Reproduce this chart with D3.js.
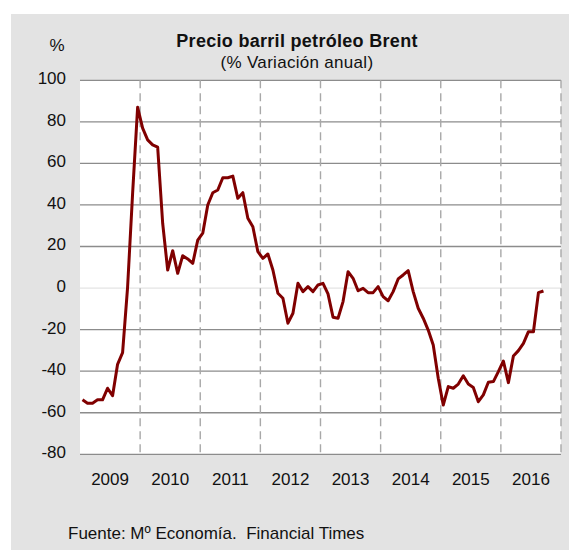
<!DOCTYPE html>
<html>
<head>
<meta charset="utf-8">
<script src="https://cdn.jsdelivr.net/npm/d3@7"></script>
<style>
  body { margin: 0; background: #fff; }
  text { font-family: "Liberation Sans", Arial, sans-serif; fill: #111; }
</style>
</head>
<body>
<div id="chart"></div>
<script>
// monthly % change, Jan 2009 .. Sep 2016
var years = ["2009", "2010", "2011", "2012", "2013", "2014", "2015", "2016"];
var yTicks = [-80, -60, -40, -20, 0, 20, 40, 60, 80, 100];
var brent = [
  -53.8, -55.4, -55.4, -53.8, -53.8, -48.2, -51.8, -36.7, -31.1, 0.5, 45.6, 87,
  77, 71.3, 68.9, 67.8, 31.2, 8.7, 18, 7.1, 15.6, 14, 11.9, 23.1,
  26.4, 40, 45.9, 47.2, 53.1, 53.1, 53.9, 43.2, 45.9, 33.6, 29.5, 17.5,
  14.3, 16.4, 8.7, -2.5, -4.9, -16.9, -12.1, 2.3, -1.7, 0.7, -1.7, 1.5,
  2.3, -2.8, -14, -14.5, -6.5, 7.9, 4.7, -1.3, -0.1, -2.2, -2.2, 0.7,
  -4.1, -6.1, -1.7, 4.4, 6.3, 8.4, -1.7, -9.7, -14.5, -20.2, -27.4, -43.4,
  -56.3, -47.4, -48.2, -46.2, -42.2, -46.2, -47.8, -54.7, -51.4, -45.3, -45, -40.2,
  -35.1, -45.5, -32.7, -30.1, -26.6, -21, -21, -2.2, -1.4
];

var margin = {top: 80.3, right: 8, bottom: 95.7, left: 80};
var width = 569 - margin.left - margin.right,
    height = 550 - margin.top - margin.bottom;

var svg = d3.select("#chart").append("svg")
    .attr("width", 569)
    .attr("height", 550);

// grey panel
svg.append("rect")
    .attr("x", 11).attr("y", 14)
    .attr("width", 558).attr("height", 536)
    .style("fill", "#e3e3e3");

var g = svg.append("g")
    .attr("transform", "translate(" + margin.left + "," + margin.top + ")");

g.append("rect")
    .attr("width", width).attr("height", height)
    .style("fill", "#fff");

var xYear = d3.scaleBand()
    .domain(years)
    .range([0, width]);

var x = d3.scaleLinear()
    .domain([0, years.length * 12])
    .range([0, width]);

var y = d3.scaleLinear()
    .domain([-80, 100])
    .range([height, 0]);

// horizontal grid
g.selectAll(".hgrid")
    .data(yTicks)
    .enter().append("line")
    .attr("class", "hgrid")
    .attr("x1", 0).attr("x2", width)
    .attr("y1", function(d) { return y(d); })
    .attr("y2", function(d) { return y(d); })
    .style("stroke", function(d) { return d == 0 ? "#e4e4e4" : "#8c8c8c"; })
    .style("stroke-width", 1.3);

// dashed year separators
g.selectAll(".vgrid")
    .data(years.slice(1).concat(["end"]))
    .enter().append("line")
    .attr("class", "vgrid")
    .attr("x1", function(d) { return d == "end" ? width : xYear(d); })
    .attr("x2", function(d) { return d == "end" ? width : xYear(d); })
    .attr("y1", 0).attr("y2", height)
    .style("stroke", "#a8a8a8")
    .style("stroke-width", 1.4)
    .style("stroke-dasharray", "8,5");

// axes (labels only)
var yAxis = g.append("g")
    .call(d3.axisLeft(y).tickValues(yTicks).tickSize(0).tickPadding(14)
        .tickFormat(function(d) { return String(d); }));
yAxis.select(".domain").remove();
yAxis.selectAll("text")
    .attr("dy", "0.2em")
    .style("font-size", "17px")
    .style("font-family", "'Liberation Sans', Arial, sans-serif")
    .style("fill", "#111");

var xAxis = g.append("g")
    .attr("transform", "translate(0," + height + ")")
    .call(d3.axisBottom(xYear).tickSize(0).tickPadding(19));
xAxis.select(".domain").remove();
xAxis.selectAll("text")
    .style("font-size", "17px")
    .style("font-family", "'Liberation Sans', Arial, sans-serif")
    .style("fill", "#111");

// the series
var line = d3.line()
    .x(function(d, i) { return x(i + 0.5); })
    .y(function(d) { return y(d); });

g.append("path")
    .datum(brent)
    .attr("d", line)
    .style("fill", "none")
    .style("stroke", "#800000")
    .style("stroke-width", 3)
    .style("stroke-linejoin", "round");

// titles
svg.append("text")
    .attr("x", 297).attr("y", 47)
    .attr("text-anchor", "middle")
    .style("font-size", "18px")
    .style("font-weight", "bold")
    .style("letter-spacing", "0.3px")
    .text("Precio barril petróleo Brent");

svg.append("text")
    .attr("x", 297).attr("y", 68)
    .attr("text-anchor", "middle")
    .style("font-size", "17px")
    .style("letter-spacing", "0.3px")
    .text("(% Variación anual)");

svg.append("text")
    .attr("x", 57).attr("y", 51)
    .attr("text-anchor", "middle")
    .style("font-size", "17px")
    .text("%");

svg.append("text")
    .attr("x", 68).attr("y", 539)
    .style("font-size", "17px")
    .text("Fuente: Mº Economía.  Financial Times")
    .attr("xml:space", "preserve");
</script>
</body>
</html>
